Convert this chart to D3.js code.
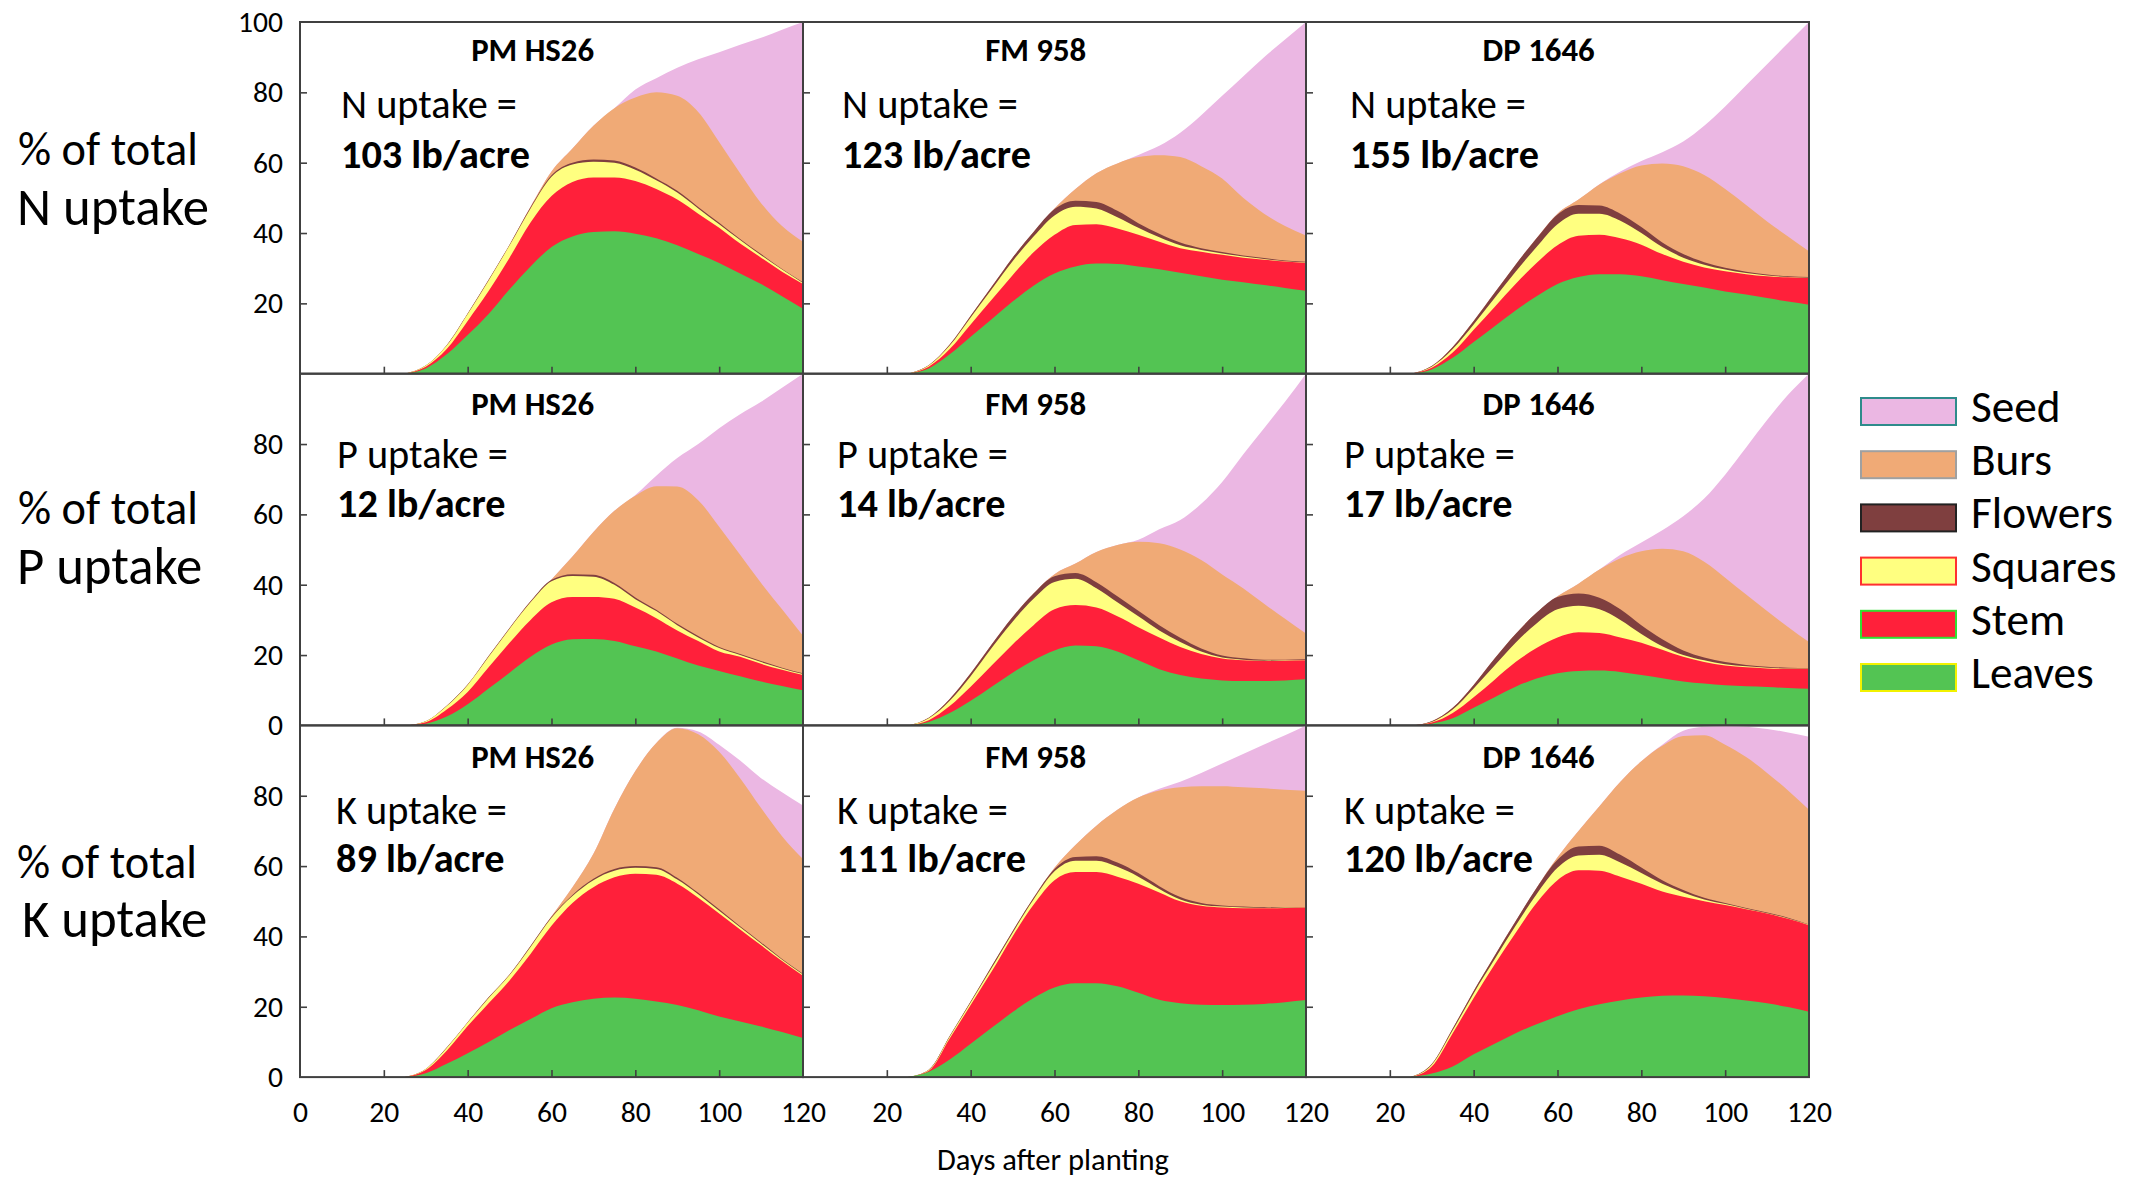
<!DOCTYPE html>
<html>
<head>
<meta charset="utf-8">
<script src="https://cdn.jsdelivr.net/npm/d3@7"></script>
<style>
  body { margin: 0; background: #fff; }
  svg { display: block; }
  text { font-family: Carlito, Calibri, Lato, "Open Sans", sans-serif; fill: #000; }
</style>
</head>
<body>
<svg id="chart" width="2141" height="1179"></svg>
<script>
// ---- data (percent of total seasonal uptake) ----
const days = [25, 30, 35, 40, 45, 50, 55, 60, 65, 70, 75, 80, 85, 90, 95, 100, 105, 110, 115, 120];

const layerKeys = ["leaves", "stem", "squares", "flowers", "burs", "seed"];
const layerNames = ["Leaves", "Stem", "Squares", "Flowers", "Burs", "Seed"];
const layerColors = ["#53C453", "#FF203A", "#FFFF80", "#7F3F3F", "#F0AA76", "#EBB7E3"];
const legendBorders = ["#F2F200", "#33E033", "#FF3030", "#222222", "#A0A0A0", "#2E8B8B"];

const cultivars = ["PM HS26", "FM 958", "DP 1646"];
const nutrients = ["N", "P", "K"];
const uptakeTotals = [[103, 123, 155], [12, 14, 17], [89, 111, 120]];

const yTickLabels = [[20, 40, 60, 80, 100], [0, 20, 40, 60, 80], [0, 20, 40, 60, 80]];
const xTickLabelsFirst = [0, 20, 40, 60, 80, 100, 120];
const xTickLabelsRest = [20, 40, 60, 80, 100, 120];

// N uptake
const nPM = {
  leaves:  [0,1.5,5.5,11,17,24,30.5,36,39,40.3,40.5,39.8,38.5,36.5,34,31.5,28.5,25.5,22,18.5],
  stem:    [0,0.5,1.5,4,6.5,9,12.5,14.5,15.5,15.5,15.3,15,14,13,11.5,10,8.5,7.5,7,7],
  squares: [0,0.3,1,2,3,3.5,4,5.5,5,4.5,4.2,3.2,2.5,2,1.5,1,1,0.7,0.6,0.3],
  flowers: [0,0,0.1,0.1,0.2,0.2,0.3,0.4,0.5,0.6,0.6,0.6,0.5,0.5,0.4,0.4,0.3,0.3,0.2,0.2],
  burs:    [0,0,0,0,0,0,0.2,1.1,4,9.6,14.9,19.9,24.5,27,27,23,18.7,14.5,12.2,11.5],
  seed:    [0,0,0,0,0,0,0,0,0,0,0,2.3,4,8,15,25.5,36.5,47,55.8,62.5]
};
const nFM = {
  leaves:  [0,1.5,5.5,10.5,15.5,20.5,25,28.5,30.5,31.3,31.2,30.5,29.7,28.7,27.7,26.7,26,25.2,24.4,23.6],
  stem:    [0,0.5,1.5,3.5,5.5,7.5,9.5,11,11.8,11.2,10.1,9,7.8,7,7,7.1,7,7.2,7.5,7.9],
  squares: [0,0.3,1,2,3,4,4.5,5.5,5.2,4.5,3.2,2,1.3,0.8,0.5,0.4,0.3,0.2,0.1,0.1],
  flowers: [0,0.1,0.3,0.5,0.7,1,1.3,1.8,1.7,1.8,1.8,1.3,1,0.8,0.5,0.4,0.3,0.3,0.2,0.2],
  burs:    [0,0,0,0,0,0,0,0.2,3.3,8.2,13.5,18.8,22.3,24.3,23.3,20.9,16.4,12.6,9.8,7.5],
  seed:    [0,0,0,0,0,0,0,0,0,0,0,0.6,2.7,6.9,14.5,23.5,34.5,44.5,53,60.7]
};
const nDP = {
  leaves:  [0,1.2,4.5,9,13.5,18,22,25.5,27.5,28.3,28.3,27.7,26.6,25.5,24.5,23.4,22.5,21.5,20.5,19.6],
  stem:    [0,0.5,1.5,3.5,5.5,7.5,9.5,11,11.7,11.2,10.2,9,7.4,6.3,5.7,5.7,5.8,6.2,6.9,7.6],
  squares: [0,0.3,1,1.5,2.5,3.5,4.5,6,6.3,6,5,3.3,2,1.2,0.8,0.5,0.3,0.2,0.1,0.1],
  flowers: [0,0.2,0.6,1,1.5,2,2.5,2.8,2.5,2.3,2,1.7,1.3,1,0.7,0.5,0.4,0.3,0.2,0.2],
  burs:    [0,0,0,0,0,0,0,0.2,1.5,6,11.5,17.5,22.5,25,24.8,22.4,19,15.1,11.3,7.3],
  seed:    [0,0,0,0,0,0,0,0,0,0.1,0.5,1.3,3.2,7,14,23.5,34,44.7,55,65.2]
};

// P uptake
const pPM = {
  leaves:  [0,0.5,2.5,6,10.5,15,19.5,23,24.5,24.6,24,22.5,21,19,17,15.5,14,12.5,11.2,10],
  stem:    [0,0.4,2,3.5,6,8.5,10.5,12,12,11.9,12,11,9.5,8,7,5.5,5.5,5,4.6,4.3],
  squares: [0,0.3,1,2,3,4,5,6,6,5.8,4,2.4,2,1.5,1,1,0.5,0.5,0.4,0.3],
  flowers: [0,0,0.1,0.1,0.2,0.2,0.3,0.4,0.5,0.5,0.5,0.5,0.4,0.4,0.4,0.3,0.3,0.3,0.2,0.2],
  burs:    [0,0,0,0,0,0,0,0.1,5,12.2,20.5,28.9,35.1,39,38.6,34.2,28.2,22.2,16.6,10.7],
  seed:    [0,0,0,0,0,0,0,0,0,0,0,0.2,3,8.1,16,28,40,51.5,63,74.5]
};
const pFM = {
  leaves:  [0,1,3.5,7,11,15,18.5,21.3,22.7,22.5,21,18.5,16,14.3,13.3,12.8,12.6,12.6,12.8,13.1],
  stem:    [0,0.5,2,4,6,8,10,11.7,11.5,11,10,9.4,9,8,7,6.2,5.9,5.7,5.6,5.4],
  squares: [0,0.5,1.5,3,5,6.5,7.5,7.8,7.5,5.5,4,3.1,2,1.4,0.7,0.3,0.2,0.1,0.1,0.1],
  flowers: [0,0.2,0.5,0.8,1,1.3,1.5,1.6,1.6,1.7,1.7,1.6,1.5,1.2,0.9,0.6,0.4,0.3,0.2,0.2],
  burs:    [0,0,0,0,0,0,0,0.6,2.7,8.6,14.6,19.6,23.3,25.1,25.1,23,19.9,15.9,11.6,7.3],
  seed:    [0,0,0,0,0,0,0,0,0,0,0,0.6,4,8.4,16,26.3,38,49.9,61.7,73.9]
};
const pDP = {
  leaves:  [0,0.5,2,5,8,11,13.3,14.8,15.5,15.6,15.2,14.3,13.4,12.5,11.9,11.4,11.1,10.9,10.6,10.4],
  stem:    [0,0.3,1.5,3,5,7,8.7,10.2,11,10.7,9.8,9.2,8.1,7,6.1,5.6,5.4,5.3,5.5,5.7],
  squares: [0,0.2,1,2.5,4,5.5,7,8,7.5,6.7,5,2.5,1,0.5,0.5,0.4,0.3,0.2,0.1,0.1],
  flowers: [0,0.2,0.5,1,2,2.5,3,3.5,3.5,3.3,3,2.5,2,1.3,0.8,0.6,0.4,0.3,0.2,0.1],
  burs:    [0,0,0,0,0,0,0,0.2,2.8,8,14.5,21,25.7,28.2,27.2,24,20,15.8,11.6,7.4],
  seed:    [0,0,0,0,0,0,0,0,0,0,1,2.5,5.3,10,18,29.3,41.8,54.3,66,76.3]
};

// K uptake
const kPM = {
  leaves:  [0,1.1,3.8,6.8,10,13.4,16.5,19.6,21.3,22.3,22.6,22.3,21.5,20.5,19,17.2,15.8,14.4,12.8,11.1],
  stem:    [0,0.9,3.7,7.7,11,14.1,18.5,23.4,28.2,31.7,34.2,35.5,36,34.5,32,29.3,26.2,23.1,20.2,17.7],
  squares: [0,0.3,0.8,1,1.5,1.5,2,2.3,2,2,1.9,1.7,1.7,1.2,1,0.8,0.6,0.5,0.4,0.4],
  flowers: [0,0,0.1,0.1,0.2,0.2,0.3,0.3,0.3,0.4,0.5,0.5,0.5,0.5,0.4,0.4,0.3,0.3,0.2,0.2],
  burs:    [0,0,0,0,0,0,0,0.1,2.2,7.1,17.1,27,35.3,42.5,45.1,44.8,42.1,38.2,34.9,32.6],
  seed:    [0,0,0,0,0,0,0,0,0,0,0,0,0,0.1,0.8,2,5,8.5,12.5,15.2]
};
const kFM = {
  leaves:  [0,1.5,5,9.5,14,18.5,22.5,25.5,26.7,26.7,25.8,24,22,21,20.6,20.5,20.6,20.8,21.3,21.9],
  stem:    [0,0.3,6,11,16,21.5,26.5,30.5,31.6,31.6,31.2,31,30.5,29,28.1,27.7,27.4,27.2,26.8,26.3],
  squares: [0,0.2,0.5,0.7,1,1,1.5,2.5,3.2,3.2,2.8,2,1,0.5,0.3,0.3,0.2,0.1,0.1,0.1],
  flowers: [0,0.1,0.2,0.3,0.5,0.5,0.5,0.7,1.1,1.3,1.2,1,0.8,0.7,0.5,0.3,0.3,0.2,0.1,0.1],
  burs:    [0,0,0,0,0,0,0,0.3,3.4,8.7,15,21.5,27.2,31.2,33.2,33.9,33.9,33.8,33.4,33],
  seed:    [0,0,0,0,0,0,0,0,0,0,0,0,0.5,1.6,3.8,6.5,9.5,12.5,15.5,18.6]
};
const kDP = {
  leaves:  [0,1,3,6.5,9.5,12.5,15,17.3,19.3,20.7,21.8,22.6,23.1,23.2,23,22.5,21.8,21,19.9,18.6],
  stem:    [0,2,9.5,16,22.5,28.5,34.5,38.7,39.5,38,35.2,32.4,29.7,28.1,27,26.4,25.9,25.5,25.1,24.6],
  squares: [0,0.5,0.8,1.3,1.5,2,2.5,3.5,4.2,4.5,4,3,2.2,1.2,0.5,0.3,0.2,0.1,0.1,0.1],
  flowers: [0,0.2,0.5,0.7,1,1.3,1.8,2.3,2.6,2.6,2.2,1.6,1,0.7,0.5,0.3,0.2,0.2,0.2,0.1],
  burs:    [0,0,0,0,0,0,0,0.7,4.4,11.2,20.8,30.2,38.2,43.8,46.2,45,42.9,39.7,36.2,32.6],
  seed:    [0,0,0,0,0,0,0,0,0,0,0,0,0.3,1.5,2.4,5.3,8.6,12.5,16.5,20.8]
};

const panels = [[nPM, nFM, nDP], [pPM, pFM, pDP], [kPM, kFM, kDP]];

// ---- layout ----
const plotLeft = 300, panelW = 503, plotTop = 22, panelH = 351.7;
const frameColor = "#404040";
const annX = [[41, 39, 44], [37, 34, 38], [36, 34, 38]];
const annY = [[96, 146], [94.5, 143.5], [98.5, 146.5]];
const titleY = [39, 41, 43];

const svg = d3.select("#chart");

function fontFor(str, weight, target) {
  const t = svg.append("text").attr("font-size", 40).attr("font-weight", weight).text(str);
  const w = t.node().getComputedTextLength();
  t.remove();
  return 40 * target / w;
}

function draw() {
  const tickFs = fontFor("100", 400, 45);
  const titleFs = fontFor("PM HS26", 700, 123);
  const annFs = fontFor("N uptake =", 400, 176);
  const valFs = fontFor("103 lb/acre", 700, 189);
  const rowFs1 = fontFor("% of total", 400, 180);
  const rowFs2 = fontFor("N uptake", 400, 192);
  const legFs = fontFor("Flowers", 400, 142);
  const axFs = fontFor("Days after planting", 400, 232);

  const stack = d3.stack().keys(layerKeys);
  const rowLabelY = [[165, 225], [524, 584], [878, 937]];
  const rowLabelX = [[18, 17], [18, 17], [17, 22]];

  panels.forEach((row, r) => {
    const top = plotTop + r * panelH;
    const y = d3.scaleLinear().domain([0, 100]).range([top + panelH, top]);

    row.forEach((p, c) => {
      const left = plotLeft + c * panelW;
      const x = d3.scaleLinear().domain([0, 120]).range([left, left + panelW]);
      const table = days.map((d, i) => {
        const o = { day: d };
        layerKeys.forEach(k => { o[k] = p[k][i]; });
        return o;
      });
      const series = stack(table);
      // each layer drawn from zero to its cumulative top, topmost first (no seams)
      const area = d3.area()
        .x(d => x(d.data.day))
        .y0(y(0))
        .y1(d => y(d[1]))
        .curve(d3.curveMonotoneX);

      const g = svg.append("g");
      g.selectAll("path")
        .data(series.slice().reverse())
        .join("path")
        .attr("fill", s => layerColors[s.index])
        .attr("d", area);

      // inward ticks
      const yt = g.append("g").attr("transform", `translate(${left},0)`)
        .call(d3.axisRight(y).tickValues([20, 40, 60, 80]).tickSize(7).tickFormat(""));
      const xt = g.append("g").attr("transform", `translate(0,${y(0)})`)
        .call(d3.axisTop(x).tickValues([20, 40, 60, 80, 100]).tickSize(7).tickFormat(""));
      [yt, xt].forEach(a => {
        a.select(".domain").remove();
        a.selectAll("line").attr("stroke", frameColor).attr("stroke-width", 1.6);
      });

      g.append("rect")
        .attr("x", left).attr("y", top)
        .attr("width", panelW).attr("height", panelH)
        .attr("fill", "none").attr("stroke", frameColor).attr("stroke-width", 2);

      // texts
      g.append("text")
        .attr("x", x(55.5)).attr("y", top + titleY[r])
        .attr("text-anchor", "middle").attr("font-weight", 700)
        .attr("font-size", titleFs)
        .text(cultivars[c]);
      g.append("text")
        .attr("x", left + annX[r][c]).attr("y", top + annY[r][0])
        .attr("font-size", annFs)
        .text(`${nutrients[r]} uptake =`);
      g.append("text")
        .attr("x", left + annX[r][c]).attr("y", top + annY[r][1])
        .attr("font-size", valFs).attr("font-weight", 700)
        .text(`${uptakeTotals[r][c]} lb/acre`);

      if (c === 0) {
        const yl = svg.append("g").attr("transform", `translate(${plotLeft},0)`)
          .call(d3.axisLeft(y).tickValues(yTickLabels[r]).tickSize(0).tickPadding(17));
        yl.select(".domain").remove();
        yl.attr("font-family", null).attr("font-size", tickFs);
        yl.selectAll("text").attr("fill", "#000");
      }
      if (r === 2) {
        const xl = svg.append("g").attr("transform", `translate(0,${y(0)})`)
          .call(d3.axisBottom(x).tickValues(c === 0 ? xTickLabelsFirst : xTickLabelsRest).tickSize(0));
        xl.select(".domain").remove();
        xl.attr("font-family", null).attr("font-size", tickFs);
        xl.selectAll("text").attr("dy", null).attr("y", 45).attr("fill", "#000");
      }
    });

    svg.append("text")
      .attr("x", rowLabelX[r][0]).attr("y", rowLabelY[r][0])
      .attr("font-size", rowFs1)
      .text("% of total");
    svg.append("text")
      .attr("x", rowLabelX[r][1]).attr("y", rowLabelY[r][1])
      .attr("font-size", rowFs2)
      .text(`${nutrients[r]} uptake`);
  });

  svg.append("text")
    .attr("x", 1053).attr("y", 1170)
    .attr("text-anchor", "middle")
    .attr("font-size", axFs)
    .text("Days after planting");

  // legend, Seed on top down to Leaves
  const legendOrder = [5, 4, 3, 2, 1, 0];
  const legend = svg.append("g").attr("transform", "translate(1861,398)");
  legendOrder.forEach((li, i) => {
    const ly = i * 53.2;
    legend.append("rect")
      .attr("x", 0).attr("y", ly)
      .attr("width", 95).attr("height", 27)
      .attr("fill", layerColors[li])
      .attr("stroke", legendBorders[li]).attr("stroke-width", 2);
    legend.append("text")
      .attr("x", 110).attr("y", ly + 24)
      .attr("font-size", legFs)
      .text(layerNames[li]);
  });
}

if (document.fonts && document.fonts.ready) {
  document.fonts.ready.then(draw);
} else {
  draw();
}
</script>
</body>
</html>
